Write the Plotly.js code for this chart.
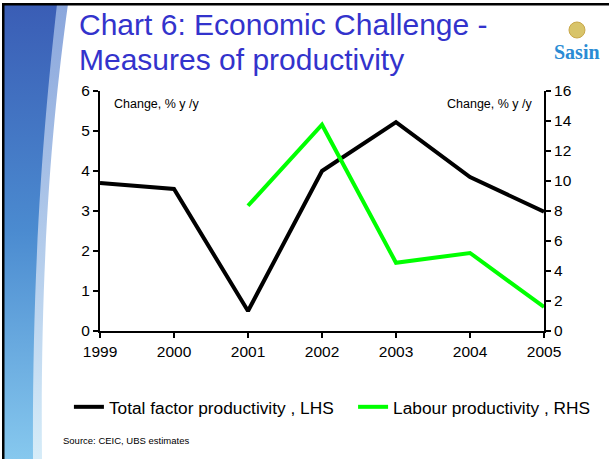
<!DOCTYPE html>
<html>
<head>
<meta charset="utf-8">
<script src="https://cdn.plot.ly/plotly-3.0.1.min.js"></script>
<style>
  html, body { margin: 0; padding: 0; background: #ffffff; }
  #wrap { position: relative; width: 609px; height: 459px; overflow: hidden; background: #ffffff; }
  #bg { position: absolute; left: 0; top: 0; }
  #chart { position: absolute; left: 0; top: 0; width: 609px; height: 459px; }
</style>
</head>
<body>
<div id="wrap">
  <svg id="bg" width="609" height="459" xmlns="http://www.w3.org/2000/svg">
    <defs>
      <linearGradient id="sw" x1="0" y1="0" x2="0" y2="1">
        <stop offset="0" stop-color="#3a5db5"/>
        <stop offset="0.5" stop-color="#4b8bd0"/>
        <stop offset="1" stop-color="#86c8ee"/>
      </linearGradient>
      <linearGradient id="sw2" x1="0" y1="0" x2="0" y2="1">
        <stop offset="0" stop-color="#8aa6dc"/>
        <stop offset="1" stop-color="#d6ecf8"/>
      </linearGradient>
    </defs>
    <path d="M4,4 L68,4 C52,120 40,260 42,459 L4,459 Z" fill="url(#sw2)"/>
    <path d="M4,4 L57,4 C44,120 32,260 33,459 L4,459 Z" fill="url(#sw)"/>
    <rect x="2" y="3" width="607" height="2.5" fill="#000"/>
    <rect x="2" y="3" width="2.5" height="456" fill="#000"/>
  </svg>
  <div id="chart"></div>
</div>
<script>
const years = [1999, 2000, 2001, 2002, 2003, 2004, 2005];
const tfp = [3.7, 3.55, 0.5, 4.0, 5.22, 3.85, 2.98];
const labour = [null, null, 8.35, 13.75, 4.55, 5.2, 1.6];
const seriesNames = ["Total factor productivity , LHS", "Labour productivity , RHS"];
const titleLines = ["Chart 6: Economic Challenge -", "Measures of productivity"];
const axisNote = "Change, % y /y";
const sourceNote = "Source: CEIC, UBS estimates";

const FONT = "Arial, 'Liberation Sans', sans-serif";

const traces = [
  { x: years, y: tfp, name: seriesNames[0], type: "scatter", mode: "lines",
    line: { color: "#000000", width: 4 }, yaxis: "y", legend: "legend", connectgaps: false },
  { x: years, y: labour, name: seriesNames[1], type: "scatter", mode: "lines",
    line: { color: "#00ff00", width: 4 }, yaxis: "y2", legend: "legend2", connectgaps: false }
];

const legendStyle = (xpos) => ({
  orientation: "h", x: xpos, xanchor: "left", y: -0.317, yanchor: "middle",
  font: { family: FONT, size: 17.3, color: "#000" },
  bgcolor: "rgba(0,0,0,0)", itemwidth: 30
});

const layout = {
  width: 609, height: 459,
  margin: { l: 100, r: 65, t: 91, b: 128 },
  paper_bgcolor: "rgba(0,0,0,0)",
  plot_bgcolor: "#ffffff",
  font: { family: FONT, color: "#000000", size: 14 },
  showlegend: true,
  legend: legendStyle(-0.07),
  legend2: legendStyle(0.57),
  xaxis: {
    range: [1999, 2005], tickmode: "linear", tick0: 1999, dtick: 1,
    showgrid: false, zeroline: false, showline: true, linecolor: "#000", linewidth: 2,
    ticks: "outside", ticklen: 5, tickwidth: 2, tickcolor: "#000",
    tickfont: { family: FONT, size: 15.5, color: "#000" }
  },
  yaxis: {
    range: [0, 6], tickmode: "linear", tick0: 0, dtick: 1,
    showgrid: false, zeroline: false, showline: true, linecolor: "#000", linewidth: 2,
    ticks: "outside", ticklen: 5, tickwidth: 2, tickcolor: "#000",
    tickfont: { family: FONT, size: 15.5, color: "#000" }
  },
  yaxis2: {
    range: [0, 16], tickmode: "linear", tick0: 0, dtick: 2,
    overlaying: "y", side: "right",
    showgrid: false, zeroline: false, showline: true, linecolor: "#000", linewidth: 2,
    ticks: "outside", ticklen: 5, tickwidth: 2, tickcolor: "#000",
    tickfont: { family: FONT, size: 15.5, color: "#000" }
  },
  shapes: [
    { type: "circle", xref: "paper", yref: "paper",
      x0: 1.0563, x1: 1.0923, y0: 1.2208, y1: 1.2875,
      fillcolor: "#d8c46a", line: { color: "#c9a84a", width: 1 }, layer: "above" }
  ],
  annotations: [
    { text: titleLines[0], xref: "paper", yref: "paper", x: -0.0518, y: 1.277,
      xanchor: "left", yanchor: "middle", showarrow: false,
      font: { family: FONT, size: 30, color: "#3333cc" } },
    { text: titleLines[1], xref: "paper", yref: "paper", x: -0.0518, y: 1.131,
      xanchor: "left", yanchor: "middle", showarrow: false,
      font: { family: FONT, size: 30, color: "#3333cc" } },
    { text: axisNote, xref: "paper", yref: "paper", x: 0.027, y: 0.946,
      xanchor: "left", yanchor: "middle", showarrow: false,
      font: { family: FONT, size: 12.5, color: "#000" } },
    { text: axisNote, xref: "paper", yref: "paper", x: 0.98, y: 0.946,
      xanchor: "right", yanchor: "middle", showarrow: false,
      font: { family: FONT, size: 12.5, color: "#000" } },
    { text: sourceNote, xref: "paper", yref: "paper", x: -0.0878, y: -0.458,
      xanchor: "left", yanchor: "middle", showarrow: false,
      font: { family: FONT, size: 9.5, color: "#000" } },
    { text: "<b>Sasin</b>", xref: "paper", yref: "paper", x: 1.074, y: 1.1625,
      xanchor: "center", yanchor: "middle", showarrow: false,
      font: { family: "'Liberation Serif', 'Times New Roman', serif", size: 20, color: "#2a8bd4" } }
  ]
};

Plotly.newPlot("chart", traces, layout, { displayModeBar: false, staticPlot: true });
</script>
</body>
</html>
